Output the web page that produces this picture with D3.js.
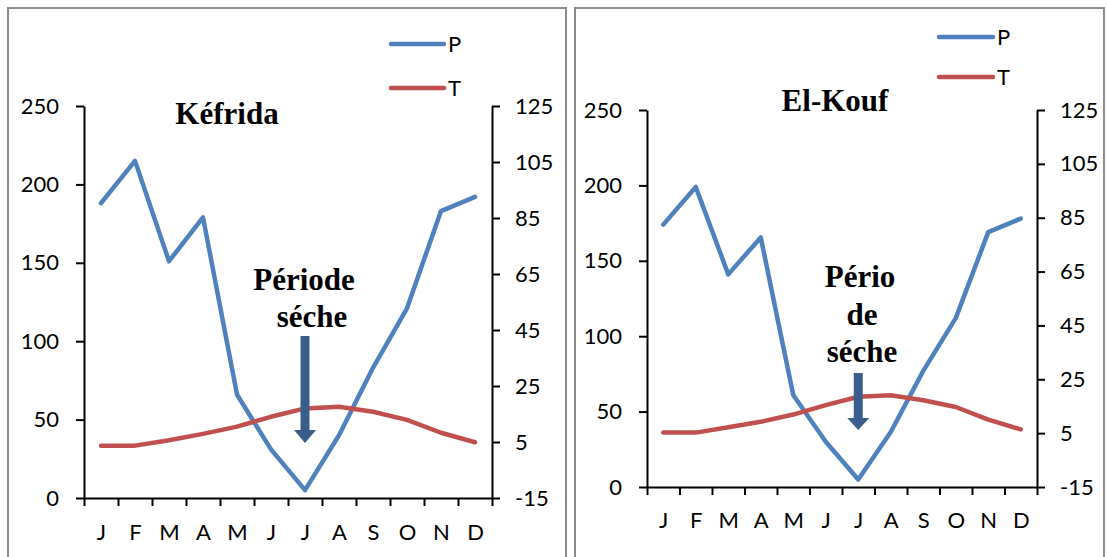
<!DOCTYPE html>
<html>
<head>
<meta charset="utf-8">
<script src="https://cdn.jsdelivr.net/npm/d3@7"></script>
<style>
  html, body { margin: 0; padding: 0; background: #fff; }
  svg { display: block; }
  .tick text, .lbl { font-family: Lato, "Open Sans", sans-serif; font-size: 22px; fill: #000; }
  .serif { font-family: "Liberation Serif", "Times New Roman", serif; font-weight: bold; font-size: 31px; fill: #000; }
</style>
</head>
<body>
<svg id="chart" width="1107" height="557"></svg>
<script>
// Monthly precipitation (P, mm) and temperature (T, °C)
const months = ["J", "F", "M", "A", "M", "J", "J", "A", "S", "O", "N", "D"];
const kefridaP = [188, 215, 151, 179, 66, 31, 5, 40, 83, 121, 183, 192];
const kefridaT = [3.7, 3.7, 5.6, 7.9, 10.5, 14, 17, 17.6, 15.8, 12.9, 8.3, 4.9];
const elkoufP = [174, 199, 141, 165.5, 61, 30, 5, 36.5, 77, 112, 169, 178];
const elkoufT = [5.2, 5.2, 7.2, 9.2, 11.9, 15.4, 18.5, 19.1, 17.2, 14.7, 10, 6.4];
const pTicks = [0, 50, 100, 150, 200, 250];
const tTicks = [-15, 5, 25, 45, 65, 85, 105, 125];
const seriesNames = ["P", "T"];

const colors = { P: "#4F81BD", T: "#C0504D", arrow: "#3A5E8C", frame: "#8C8C8C" };

const svg = d3.select("#chart");

function drawPanel(cfg) {
  const g = svg.append("g");

  // panel frame (open at the bottom)
  g.append("path")
    .attr("d", `M${cfg.frame[0]},557 V${cfg.frameTop} H${cfg.frame[1]} V557`)
    .attr("fill", "none").attr("stroke", colors.frame).attr("stroke-width", 2);

  const x = d3.scaleLinear().domain([0, 12]).range([cfg.left, cfg.right]);
  const yP = d3.scaleLinear().domain([0, 250]).range([cfg.bottom, cfg.top]);
  const yT = d3.scaleLinear().domain([-15, 125]).range([cfg.bottom, cfg.top]);

  // left axis (P)
  const ax1 = g.append("g").attr("transform", `translate(${cfg.left},0)`)
    .call(d3.axisLeft(yP).tickValues(pTicks).tickSize(8).tickSizeOuter(0).tickPadding(17));
  // right axis (T)
  const ax2 = g.append("g").attr("transform", `translate(${cfg.right},0)`)
    .call(d3.axisRight(yT).tickValues(tTicks).tickSize(8).tickSizeOuter(0).tickPadding(15)
      .tickFormat(d => d < 0 ? "-" + Math.abs(d) : d));
  // bottom axis: tick marks between months
  const ax3 = g.append("g").attr("transform", `translate(0,${cfg.bottom})`)
    .call(d3.axisBottom(x).tickValues(d3.range(13)).tickSize(8).tickSizeOuter(0).tickFormat(""));
  // month labels
  const ax4 = g.append("g").attr("transform", `translate(0,${cfg.bottom})`)
    .call(d3.axisBottom(x).tickValues(d3.range(12).map(i => i + 0.5)).tickSize(0)
      .tickFormat(d => months[Math.floor(d)]));
  ax4.select(".domain").remove();
  ax4.selectAll("text").attr("y", cfg.monthDy).attr("dy", "0.35em");

  [ax1, ax2, ax3].forEach(a => {
    a.selectAll(".domain, line").attr("stroke", "#000").attr("stroke-width", 2);
  });
  g.selectAll(".tick text").attr("font-family", null).attr("font-size", null);

  // series lines
  const lineP = d3.line().x((d, i) => x(i + 0.5)).y(d => yP(d));
  const lineT = d3.line().x((d, i) => x(i + 0.5)).y(d => yT(d));
  g.append("path").datum(cfg.P).attr("d", lineP)
    .attr("fill", "none").attr("stroke", colors.P).attr("stroke-width", 4.5)
    .attr("stroke-linejoin", "round").attr("stroke-linecap", "round");
  g.append("path").datum(cfg.T).attr("d", lineT)
    .attr("fill", "none").attr("stroke", colors.T).attr("stroke-width", 4.5)
    .attr("stroke-linejoin", "round").attr("stroke-linecap", "round");

  // legend
  seriesNames.forEach((name, i) => {
    const ly = cfg.legend.y[i];
    g.append("line")
      .attr("x1", cfg.legend.x0).attr("x2", cfg.legend.x1)
      .attr("y1", ly).attr("y2", ly)
      .attr("stroke", colors[name]).attr("stroke-width", 4.5).attr("stroke-linecap", "round");
    g.append("text").attr("class", "lbl")
      .attr("x", cfg.legend.x1 + 4).attr("y", ly).attr("dy", "0.35em").text(name);
  });

  // station name
  g.append("text").attr("class", "serif")
    .attr("x", cfg.title.x).attr("y", cfg.title.y).attr("text-anchor", "middle")
    .text(cfg.title.text);

  // dry-period arrow pointing at July
  const ax = x(6.5);
  const a = cfg.arrow;
  g.append("path")
    .attr("d", `M${ax - a.shaft / 2},${a.top} H${ax + a.shaft / 2} V${a.headTop}
                H${ax + a.head / 2} L${ax},${a.tip} L${ax - a.head / 2},${a.headTop}
                H${ax - a.shaft / 2} Z`)
    .attr("fill", colors.arrow);

  // dry-period label
  cfg.note.forEach(n => {
    g.append("text").attr("class", "serif")
      .attr("x", n.x).attr("y", n.y).attr("text-anchor", "middle").text(n.text);
  });
}

drawPanel({
  frame: [8, 566], frameTop: 8,
  left: 84, right: 492, top: 106, bottom: 498, monthDy: 34,
  P: kefridaP, T: kefridaT,
  legend: { x0: 391, x1: 444, y: [44, 88] },
  title: { text: "Kéfrida", x: 227, y: 124 },
  arrow: { top: 336, headTop: 430, tip: 443, shaft: 9, head: 22 },
  note: [
    { text: "Période", x: 304, y: 290 },
    { text: "séche", x: 312, y: 327 }
  ]
});

drawPanel({
  frame: [575, 1104], frameTop: 8,
  left: 647, right: 1037, top: 110, bottom: 487, monthDy: 33,
  P: elkoufP, T: elkoufT,
  legend: { x0: 939, x1: 993, y: [37, 77] },
  title: { text: "El-Kouf", x: 835, y: 111 },
  arrow: { top: 373, headTop: 418, tip: 430, shaft: 9, head: 22 },
  note: [
    { text: "Pério", x: 860, y: 287 },
    { text: "de", x: 862, y: 325 },
    { text: "séche", x: 862, y: 362 }
  ]
});
</script>
</body>
</html>
